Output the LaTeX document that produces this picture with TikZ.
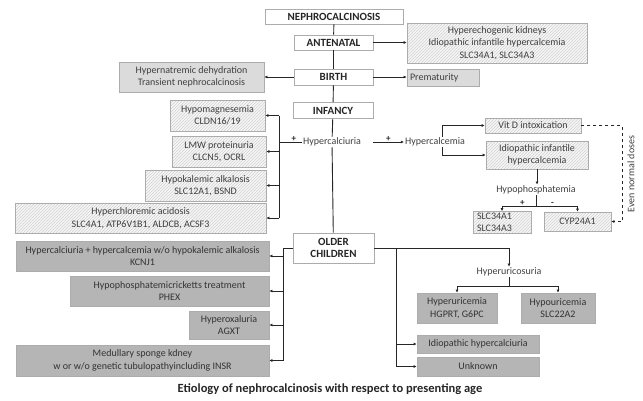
\documentclass[tikz,border=0pt]{standalone}
\usepackage{fontspec}
\setmainfont{Carlito}
\usepackage{tikz}
\usetikzlibrary{arrows.meta,patterns}

\tikzset{
  box/.style={draw=gray!65, line width=0.6pt, align=center, inner sep=1pt,
    text=black!75, font=\fontsize{10}{12.5}\selectfont},
  stagebox/.style={box, fill=white, text=black!85, font=\bfseries\fontsize{11}{12.5}\selectfont},
  hatchbox/.style={box, preaction={fill=gray!7}, pattern=north east lines, pattern color=gray!35},
  greybox/.style={box, fill=gray!28},
  darkbox/.style={box, fill=gray!58, text=black!80},
  plain/.style={inner sep=1pt, text=black!75, font=\fontsize{10}{12.5}\selectfont},
  conn/.style={line width=0.9pt, black!85},
  arr/.style={conn, -{Latex[length=3pt,width=3pt]}},
  sign/.style={inner sep=0.5pt, font=\bfseries\fontsize{9}{9}\selectfont}
}

\begin{document}
\begin{tikzpicture}[x=1pt,y=-1pt]
  \useasboundingbox (0,0) rectangle (643,400);

  % time line
  \node[stagebox, minimum width=138, minimum height=15] (nephro) at (334,16.5) {NEPHROCALCINOSIS};
  \node[stagebox, minimum width=79, minimum height=15] (antenatal) at (333.5,42.5) {ANTENATAL};
  \node[stagebox, minimum width=79, minimum height=16] (birth) at (333.5,77) {BIRTH};
  \node[stagebox, minimum width=80, minimum height=16] (infancy) at (333,110.5) {INFANCY};
  \node[plain] (hcalciuria) at (332,142) {Hypercalciuria};
  \node[stagebox, minimum width=81, minimum height=30] (older) at (333.5,248) {OLDER\\CHILDREN};

  % antenatal and birth
  \node[hatchbox, minimum width=180, minimum height=40] (antebox) at (497,43)
    {Hyperechogenic kidneys\\Idiopathic infantile hypercalcemia\\SLC34A1, SLC34A3};
  \node[greybox, minimum width=145, minimum height=30] (birthbox) at (191.5,77)
    {Hypernatremic dehydration\\Transient nephrocalcinosis};
  \node[greybox, minimum width=72, minimum height=17, text width=66, align=left] (prema) at (443,77.5) {Prematurity};

  % infancy, left
  \node[hatchbox, minimum width=95, minimum height=31] (hypomag) at (217.5,115.5) {Hypomagnesemia\\CLDN16/19};
  \node[hatchbox, minimum width=94, minimum height=31] (lmw) at (219,151.5) {LMW proteinuria\\CLCN5, OCRL};
  \node[hatchbox, minimum width=121, minimum height=31] (hypok) at (205.5,185.5) {Hypokalemic alkalosis\\SLC12A1, BSND};
  \node[hatchbox, minimum width=251, minimum height=30] (hyperchl) at (140.5,218)
    {Hyperchloremic acidosis\\SLC4A1, ATP6V1B1, ALDCB, ACSF3};

  % infancy, right
  \node[plain] (hcalcemia) at (435,142) {Hypercalcemia};
  \node[hatchbox, minimum width=96, minimum height=15] (vitd) at (533,125.5) {Vit D intoxication};
  \node[hatchbox, minimum width=102, minimum height=28] (idioinf) at (537,155) {Idiopathic infantile\\hypercalcemia};
  \node[plain] (hphos) at (536,190) {Hypophosphatemia};
  \node[hatchbox, minimum width=58, minimum height=22, text width=50, align=left] (slc) at (502,222.5) {SLC34A1\\SLC34A3};
  \node[hatchbox, minimum width=67, minimum height=19] (cyp) at (577.5,221.5) {CYP24A1};
  \node[plain, rotate=90] (evlab) at (631,174) {Even normal doses};

  % older children, left
  \node[darkbox, minimum width=253, minimum height=30] (o1) at (142.5,256)
    {Hypercalciuria + hypercalcemia w/o hypokalemic alkalosis\\KCNJ1};
  \node[darkbox, minimum width=199, minimum height=30] (o2) at (169.5,291)
    {Hypophosphatemicricketts treatment\\PHEX};
  \node[darkbox, minimum width=80, minimum height=28] (o3) at (229,325) {Hyperoxaluria\\AGXT};
  \node[darkbox, minimum width=253, minimum height=31] (o4) at (142.5,360.5)
    {Medullary sponge kdney\\w or w/o genetic tubulopathyincluding INSR};

  % older children, right
  \node[plain] (huricos) at (509,272) {Hyperuricosuria};
  \node[darkbox, minimum width=80, minimum height=30] (hurem) at (457,308) {Hyperuricemia\\HGPRT, G6PC};
  \node[darkbox, minimum width=74, minimum height=30] (hypour) at (558,308) {Hypouricemia\\SLC22A2};
  \node[darkbox, minimum width=122, minimum height=18] (idiohc) at (478,344) {Idiopathic hypercalciuria};
  \node[darkbox, minimum width=122, minimum height=19] (unknown) at (478,366.5) {Unknown};

  \node[font=\bfseries\fontsize{12.5}{14}\selectfont, text=black!85] (caption) at (330,389)
    {Etiology of nephrocalcinosis with respect to presenting age};

  % branch points
  \coordinate (lb) at (279,142);
  \coordinate (hb) at (442,142);
  \coordinate (hs) at (536,206);
  \coordinate (dc) at (622,125.5);
  \coordinate (ob) at (283,248);
  \coordinate (rb) at (396,248);
  \coordinate (us) at (509,286);

  % connectors
  \draw[conn] (nephro) -- (antenatal);
  \draw[conn] (antenatal) -- (birth);
  \draw[conn] (birth) -- (infancy);
  \draw[conn] (infancy) -- (hcalciuria);
  \draw[conn] (hcalciuria) -- (older);
  \draw[arr] (antenatal.east) -- (antenatal.east -| antebox.west);
  \draw[arr] (birth.west) -- (birth.west -| birthbox.east);
  \draw[arr] (birth.east) -- (birth.east -| prema.west);

  \draw[conn] (hcalciuria.west) -- (lb) node[sign, pos=0.35, above] {+};
  \draw[conn] (lb|-hypomag.east) -- (lb|-hyperchl.east);
  \foreach \b in {hypomag,lmw,hypok,hyperchl}
    \draw[arr] (lb|-\b.east) -- (\b.east);

  \draw[arr] (373,142) -- (hcalcemia.west) node[sign, midway, above] {+};
  \draw[conn] (hb|-hcalcemia.north) -- (hb|-vitd);
  \draw[arr] (hb|-vitd) -- (vitd.west);
  \draw[conn] (hb|-hcalcemia.south) -- (hb|-idioinf);
  \draw[arr] (hb|-idioinf) -- (idioinf.west);
  \draw[arr] (idioinf.south) -- (idioinf.south|-hphos.north);
  \draw[conn] (hphos) -- (hs);
  \draw[arr] (hs) -| (slc.north) node[sign, pos=0.2, above] {+};
  \draw[arr] (hs) -| (cyp.north) node[sign, pos=0.2, above] {-};
  \draw[arr, dashed, line width=0.8pt] (vitd.east) -- (dc) -- (dc|-cyp.east) -- (cyp.east);

  \draw[conn] (older.west|-ob) -- (ob) -- (ob|-o4.east);
  \foreach \b in {o1,o2,o3,o4}
    \draw[arr] (ob|-\b.east) -- (\b.east);

  \draw[arr] (older.east|-rb) -| (huricos.north);
  \draw[conn] (rb) -- (rb|-unknown.west);
  \draw[arr] (rb|-idiohc.west) -- (idiohc.west);
  \draw[arr] (rb|-unknown.west) -- (unknown.west);
  \draw[conn] (huricos) -- (us);
  \draw[arr] (us) -| (hurem.north);
  \draw[arr] (us) -| (hypour.north);
\end{tikzpicture}
\end{document}
